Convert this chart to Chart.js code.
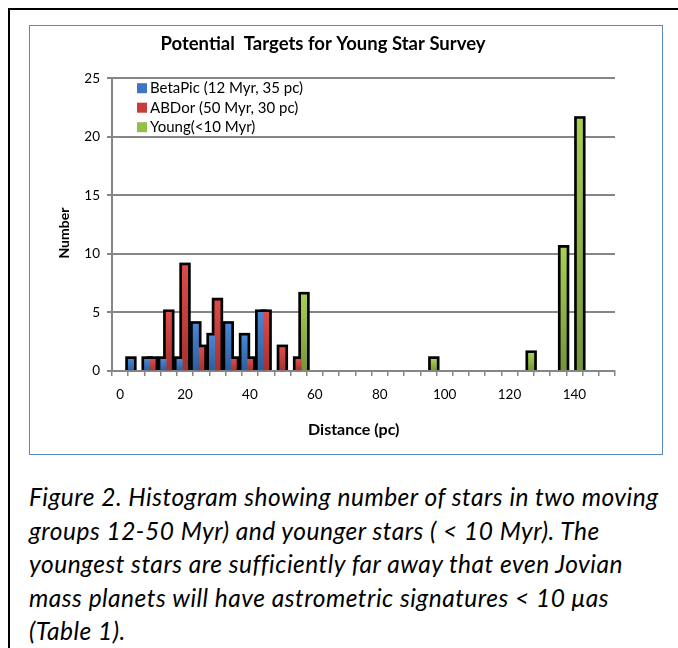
<!DOCTYPE html>
<html lang="en">
<head>
<meta charset="UTF-8">
<title>Potential Targets for Young Star Survey</title>
<style>
body { margin: 0; background: #fff; font-family: Lato, sans-serif; }
.frame { position: absolute; left: 8px; top: 8px; width: 720px; height: 700px; border-left: 2px solid #000; border-top: 2px solid #000; }
.box { position: absolute; left: 29px; top: 25px; width: 632px; height: 428px; border: 1.5px solid #5b87c2; }
.chart { position: absolute; left: 31px; top: 27px; width: 630px; height: 426px; }
.caption { position: absolute; left: 29px; top: 480px; font-style: italic; font-size: 24.5px; letter-spacing: 0.5px; line-height: 33.6px; color: #000; white-space: nowrap; }
</style>
</head>
<body>
<div class="frame"></div>
<div class="box"></div>
<div class="chart"><canvas id="hist"></canvas></div>
<div class="caption">Figure 2. Histogram showing number of stars in two moving<br>groups 12-50 Myr) and younger stars ( &lt; 10 Myr). The<br>youngest stars are sufficiently far away that even Jovian<br>mass planets will have astrometric signatures &lt; 10 &mu;as<br>(Table 1).</div>
<script src="https://cdn.jsdelivr.net/npm/chart.js@4.4.1/dist/chart.umd.min.js"></script>
<script>
// distance bins (pc)
const distances = [0, 5, 10, 15, 20, 25, 30, 35, 40, 45, 50, 55, 60, 65, 70, 75, 80, 85, 90, 95, 100, 105, 110, 115, 120, 125, 130, 135, 140, 145, 150];
const betaPic = [0, 1, 1, 1, 1, 4, 3, 4, 3, 5, 0, 0, 0, 0, 0, 0, 0, 0, 0, 0, 0, 0, 0, 0, 0, 0, 0, 0, 0, 0, 0];
const abDor   = [0, 0, 1, 5, 9, 2, 6, 1, 1, 5, 2, 1, 0, 0, 0, 0, 0, 0, 0, 0, 0, 0, 0, 0, 0, 0, 0, 0, 0, 0, 0];
const young   = [0, 0, 0, 0, 0, 0, 0, 0, 0, 0, 0, 6.5, 0, 0, 0, 0, 0, 0, 0, 1, 0, 0, 0, 0, 0, 1.5, 0, 10.5, 21.5, 0, 0];
const yTicks = [0, 5, 10, 15, 20, 25];

const grey = '#868686';

function barFill(top, bottom) {
  return ctx => {
    const y = ctx.chart.scales.y;
    if (!y || ctx.raw == null) return top;
    const g = ctx.chart.ctx.createLinearGradient(0, y.getPixelForValue(ctx.raw), 0, y.getPixelForValue(0));
    g.addColorStop(0, top);
    g.addColorStop(1, bottom);
    return g;
  };
}

// black outline behind every bar, merged like the original
const outlines = {
  id: 'outlines',
  beforeDatasetsDraw(chart) {
    const c = chart.ctx;
    c.save();
    c.fillStyle = '#000';
    chart.data.datasets.forEach((ds, i) => {
      chart.getDatasetMeta(i).data.forEach((bar, j) => {
        if (ds.data[j] == null) return;
        const p = bar.getProps(['x', 'y', 'base', 'width'], true);
        c.fillRect(p.x - p.width / 2 - 3, p.y - 3, p.width + 6, p.base - p.y + 3);
      });
    });
    c.restore();
  }
};

// legend drawn inside the plot area
const insideLegend = {
  id: 'insideLegend',
  afterDraw(chart) {
    const { ctx, chartArea } = chart;
    ctx.save();
    ctx.font = '15px Lato';
    ctx.textBaseline = 'middle';
    chart.data.datasets.forEach((ds, i) => {
      const y = chartArea.top + 10 + i * 19.5;
      ctx.fillStyle = ds.legendColor;
      ctx.fillRect(chartArea.left + 25, y - 5, 10, 10);
      ctx.fillStyle = '#000';
      ctx.fillText(ds.label, chartArea.left + 38, y);
    });
    ctx.restore();
  }
};

const nz = arr => arr.map(v => v || null);

new Chart(document.getElementById('hist'), {
  type: 'bar',
  data: {
    labels: distances,
    datasets: [
      { label: 'BetaPic (12 Myr, 35 pc)', data: nz(betaPic), backgroundColor: barFill('#4a86d2', '#2c5e9e'), legendColor: '#3d75c4' },
      { label: 'ABDor (50 Myr, 30 pc)', data: nz(abDor), backgroundColor: barFill('#de4b47', '#a3322f'), legendColor: '#c83c3a' },
      { label: 'Young(<10 Myr)', data: nz(young), backgroundColor: barFill('#a8d052', '#74943a'), legendColor: '#93bf47' }
    ]
  },
  options: {
    responsive: true,
    maintainAspectRatio: false,
    animation: false,
    layout: { padding: { left: 0, right: 46, top: 0, bottom: 0 } },
    datasets: { bar: { categoryPercentage: 1, barPercentage: 1, borderWidth: 0 } },
    plugins: {
      legend: { display: false },
      tooltip: { enabled: false },
      title: {
        display: true,
        text: 'Potential  Targets for Young Star Survey',
        color: '#000',
        font: { family: 'Lato', size: 18.5, weight: 'bold', lineHeight: 1.2 },
        padding: { top: 6, bottom: 23 }
      }
    },
    scales: {
      x: {
        offset: true,
        grid: { offset: true, drawOnChartArea: false, drawTicks: true, tickLength: 5, color: grey, lineWidth: 1.5 },
        border: { color: grey, width: 2 },
        ticks: {
          autoSkip: false, maxRotation: 0, padding: 11, color: '#000',
          font: { family: 'Lato', size: 13.5 },
          callback: (v, i) => distances[i] % 20 === 0 ? String(distances[i]) : ''
        },
        title: { display: true, text: 'Distance (pc)     ', color: '#000', font: { family: 'Lato', size: 16, weight: 'bold', lineHeight: 1.2 }, padding: { top: 20, bottom: 14 } },
        afterFit: s => { s.height = 82; }
      },
      y: {
        min: 0, max: 25,
        afterBuildTicks: s => { s.ticks = yTicks.map(v => ({ value: v })); },
        grid: { color: grey, lineWidth: 2, tickLength: 5 },
        border: { color: grey, width: 2 },
        ticks: { padding: 7, color: '#000', font: { family: 'Lato', size: 13.5 } },
        title: { display: true, text: 'Number     ', color: '#000', font: { family: 'Lato', size: 14, weight: 'bold', lineHeight: 1.2 }, padding: { top: 25, bottom: 10 } },
        afterFit: s => { s.width = 81; }
      }
    }
  },
  plugins: [outlines, insideLegend]
});
</script>
</body>
</html>
